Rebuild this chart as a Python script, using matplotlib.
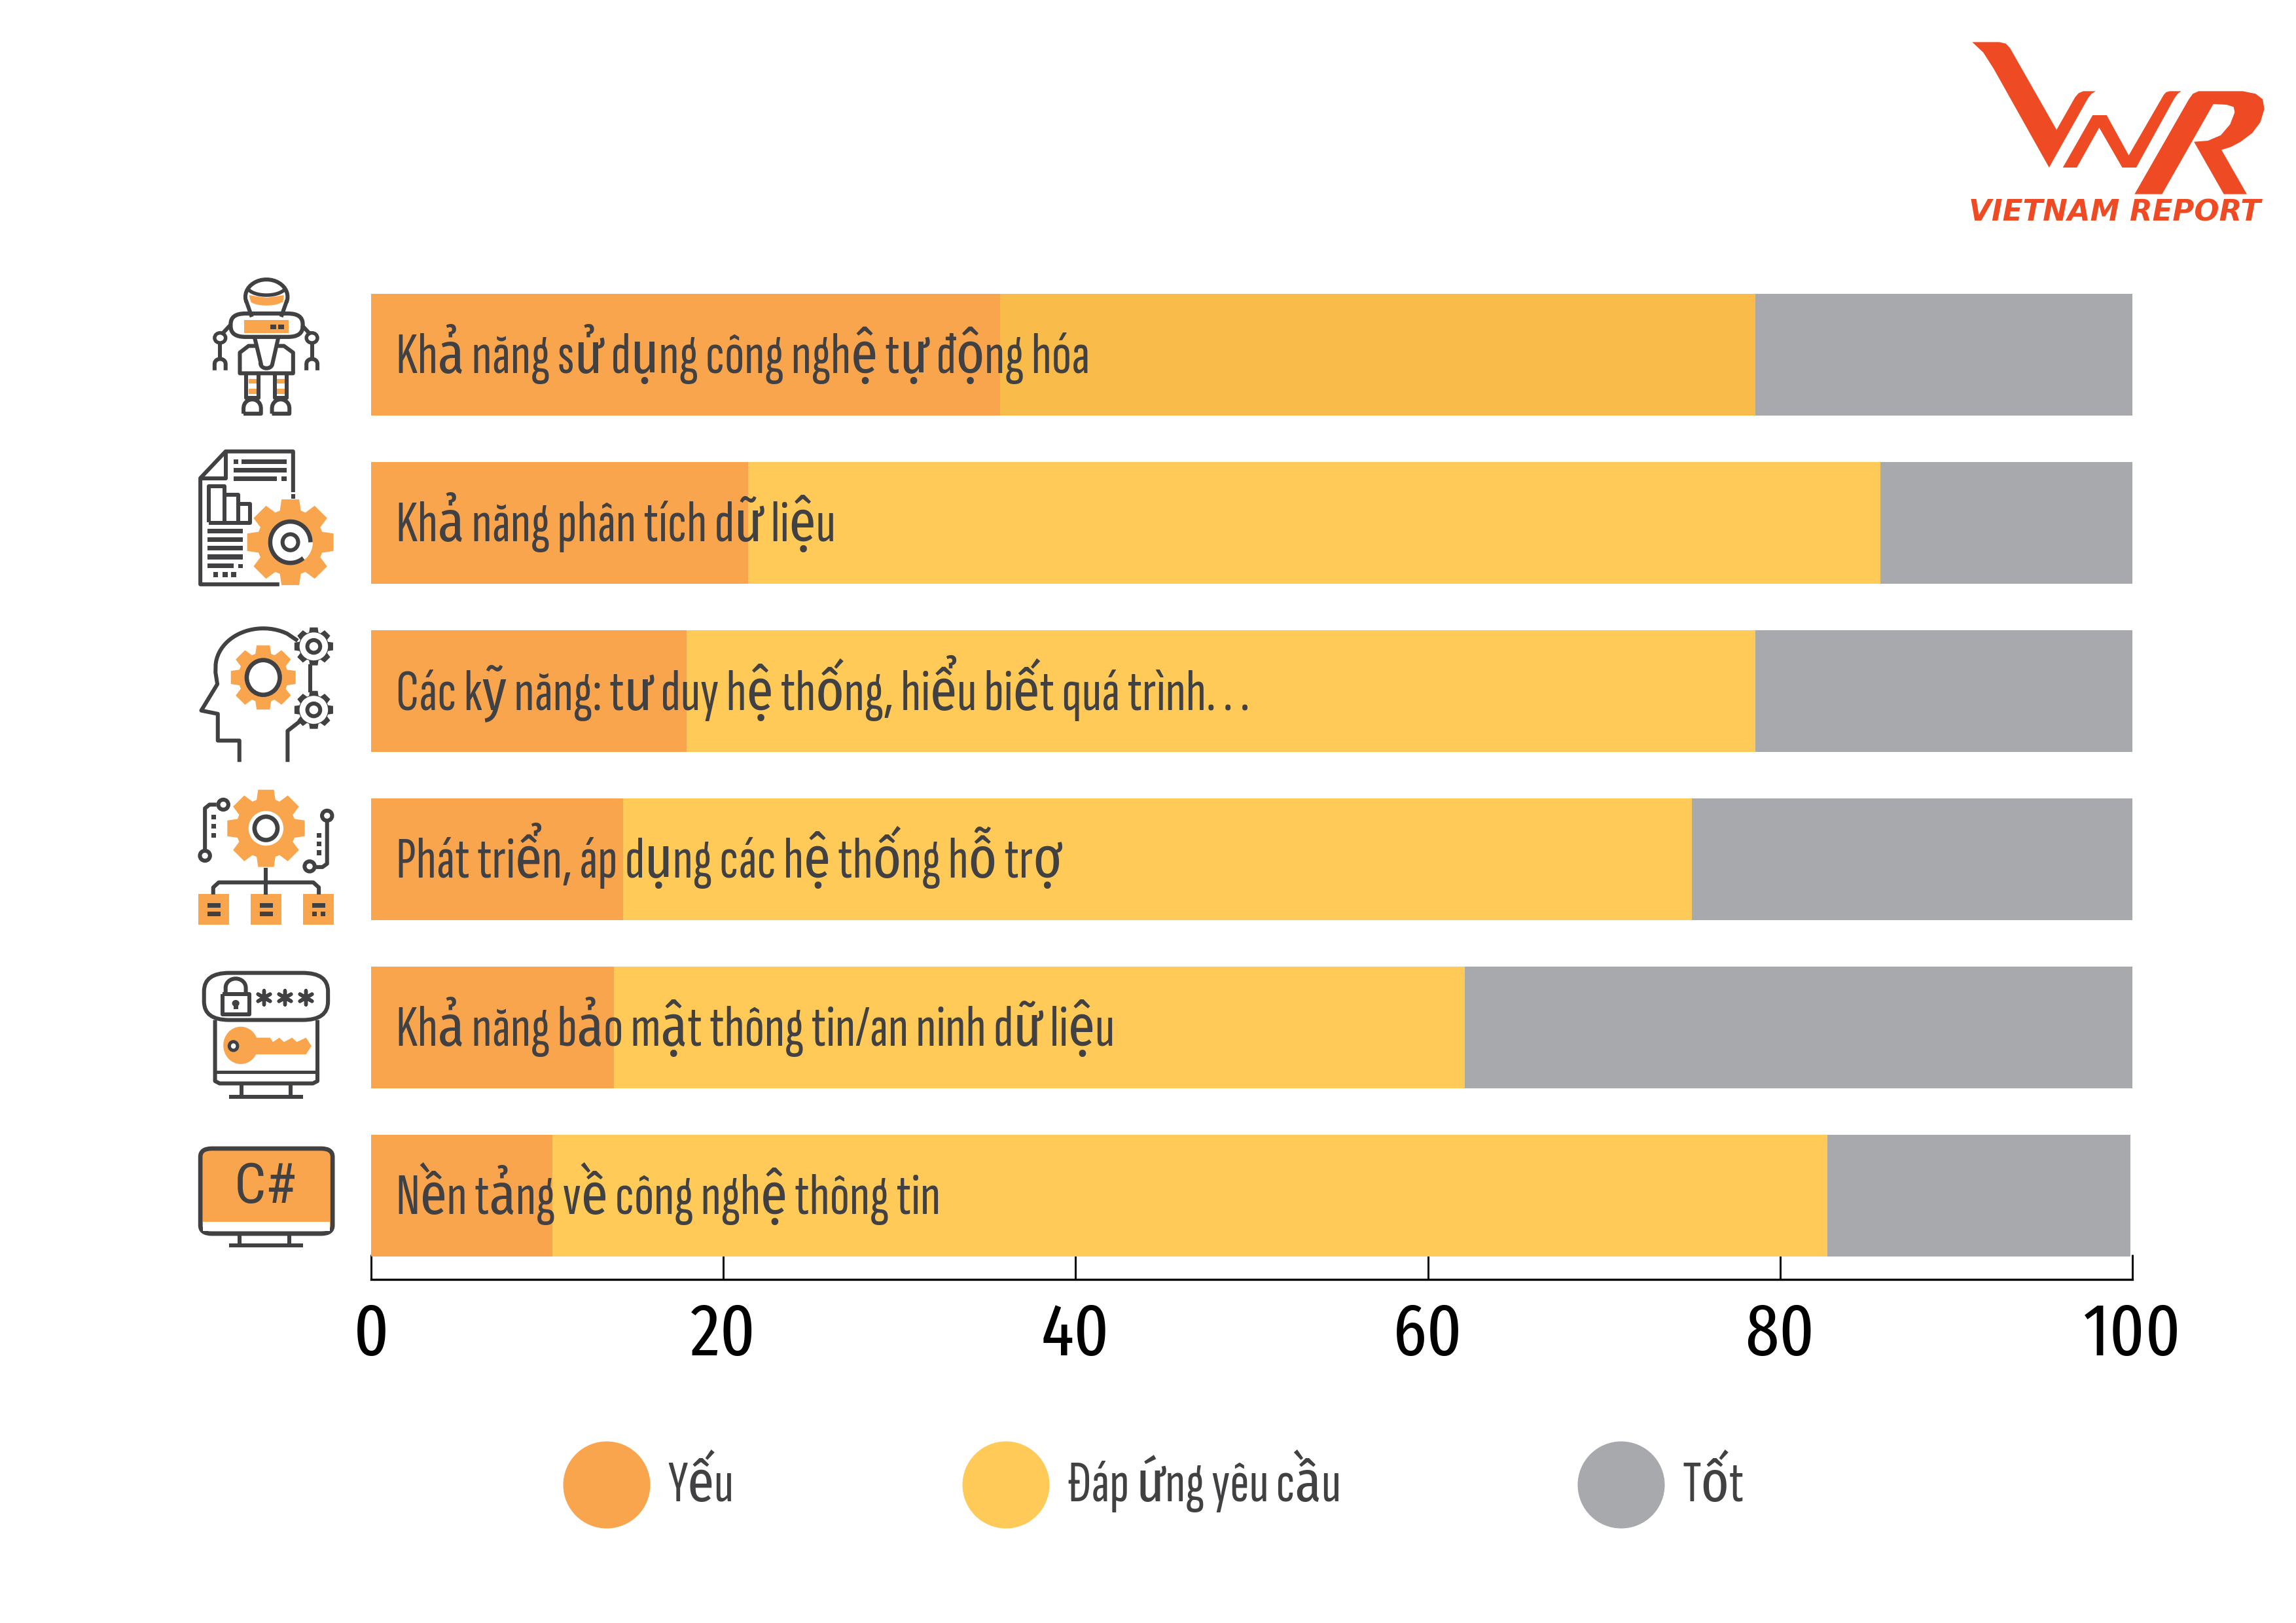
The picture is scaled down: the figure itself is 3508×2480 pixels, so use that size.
import numpy as np
import matplotlib
matplotlib.use('Agg')
import matplotlib.pyplot as plt
from matplotlib.patches import Polygon, Ellipse, Rectangle, FancyBboxPatch
from matplotlib.transforms import Affine2D

plt.rcParams['font.family'] = ['Fira Sans Extra Condensed', 'Barlow Condensed', 'Liberation Sans', 'DejaVu Sans']
NARROW = ['Sofia Sans Extra Condensed', 'Fira Sans Extra Condensed', 'Barlow Condensed', 'Liberation Sans', 'DejaVu Sans']

categories = ['Khả năng sử dụng công nghệ tự động hóa',
              'Khả năng phân tích dữ liệu',
              'Các kỹ năng: tư duy hệ thống, hiểu biết quá trình. . .',
              'Phát triển, áp dụng các hệ thống hỗ trợ',
              'Khả năng bảo mật thông tin/an ninh dữ liệu',
              'Nền tảng về công nghệ thông tin']
yeu = [35.7, 21.4, 17.9, 14.3, 13.8, 10.3]
dap_ung = [42.9, 64.3, 60.7, 60.7, 48.3, 72.4]
tot = [21.4, 14.3, 21.4, 25.0, 37.9, 17.2]
dap_ung_colors = ['#F9BC4B', '#FFCA57', '#FFCA57', '#FFCA57', '#FFCA57', '#FFCA57']
ticks = [0, 20, 40, 60, 80, 100]
legend_labels = ['Yếu', 'Đáp ứng yêu cầu', 'Tốt']

ORANGE = '#F9A54E'
YELLOW = '#FFCA57'
GREY = '#A7A9AC'
DARK = '#414042'
RED = '#EE4B25'

W, H = 3508, 2480
fig = plt.figure(figsize=(W / 300, H / 300), dpi=300)

# main chart, one row every 257 px
ax = fig.add_axes([567 / W, 1 - 1954.5 / H, (3258 - 567) / W, (1954.5 - 420) / H])
y = np.arange(len(categories))
yeu_arr = np.array(yeu)
dap_arr = np.array(dap_ung)
ax.barh(y, yeu, height=0.724, color=ORANGE)
ax.barh(y, dap_ung, left=yeu_arr, height=0.724, color=dap_ung_colors)
ax.barh(y, tot, left=yeu_arr + dap_arr, height=0.724, color=GREY)
for i, label in enumerate(categories):
    ax.text(1.4, i + 0.108, label, va='baseline', ha='left', fontsize=21.5, color=DARK, family=NARROW)
ax.set_xlim(0, 100)
ax.set_ylim(5.496, -0.475)
ax.set_yticks([])
ax.set_xticks(ticks)
ax.set_axisbelow(True)
ax.tick_params(axis='x', direction='in', length=9.2, width=0.7, pad=7.5, labelsize=27, colors='black')
for side in ['top', 'left', 'right']:
    ax.spines[side].set_visible(False)
ax.spines['bottom'].set_linewidth(0.8)
ax.patch.set_visible(False)

# overlay in pixel coordinates for legend, icons and logo
ov = fig.add_axes([0, 0, 1, 1])
ov.set_xlim(0, W)
ov.set_ylim(H, 0)
ov.axis('off')

for cx, tx, col, label in zip([927, 1537, 2477], [1020, 1632, 2571], [ORANGE, YELLOW, GREY], legend_labels):
    ov.add_patch(Ellipse((cx, 2269), 133, 133, color=col, lw=0))
    ov.text(tx, 2294, label, va='baseline', ha='left', fontsize=21.3, color=DARK, family=NARROW)


# icon shapes are traced on stretched crops, these map them back to pixels
def crop(x0, y0, sx, sy):
    return Affine2D().scale(1 / sx, 1 / sy).translate(x0, y0) + ov.transData


T1 = crop(250, 400, 1.4255, 1.96)
T2 = crop(250, 1180, 1.4255, 1.96)
TL = crop(2950, 30, 2.81, 3.0)
LW = 1.45


def stroke(tr, pts, lw=LW, color=DARK):
    xs, ys = zip(*pts)
    ov.plot(xs, ys, color=color, lw=lw, transform=tr, solid_capstyle='butt', solid_joinstyle='round')


def fill(tr, pts, color=ORANGE):
    ov.add_patch(Polygon(pts, closed=True, facecolor=color, edgecolor='none', transform=tr))


def rect(tr, x0, y0, x1, y1, color=DARK):
    ov.add_patch(Rectangle((x0, y0), x1 - x0, y1 - y0, facecolor=color, edgecolor='none', transform=tr))


def oval(tr, cx, cy, rx, ry, face='white', edge=DARK, lw=LW):
    ov.add_patch(Ellipse((cx, cy), 2 * rx, 2 * ry, facecolor=face, edgecolor=edge, lw=lw, transform=tr))


def arc(cx, cy, rx, ry, a0, a1, n=24):
    a = np.radians(np.linspace(a0, a1, n))
    return list(zip(cx + rx * np.cos(a), cy + ry * np.sin(a)))


def box(tr, x0, y0, x1, y1, r, face='none', edge=DARK, lw=LW):
    ov.add_patch(FancyBboxPatch((x0 + r, y0 + r), x1 - x0 - 2 * r, y1 - y0 - 2 * r,
                                boxstyle='round,pad=%f,rounding_size=%f' % (r, r),
                                facecolor=face, edgecolor=edge, lw=lw, transform=tr))


def gear(tr, cx, cy, rx, ry, teeth=8, color=ORANGE, depth=0.76):
    pts = []
    step = 2 * np.pi / teeth
    for k in range(teeth):
        a = k * step - np.pi / 2
        for da, r in [(-0.30, depth), (-0.19, 1), (0.19, 1), (0.30, depth)]:
            pts.append((cx + rx * r * np.cos(a + da * step * 1.35), cy + ry * r * np.sin(a + da * step * 1.35)))
    fill(tr, pts, color)


# robot
stroke(T1, [(192, 165), (180, 118)] + arc(224, 105, 46, 52, 165, 375) + [(268, 118), (256, 165)])
fill(T1, [(186, 100), (224, 108), (262, 100), (260, 122)] + arc(224, 115, 36, 16, 20, 160))
stroke(T1, arc(224, 70, 44, 30, 160, 20), lw=1.3)
box(T1, 146, 155, 303, 225, 32, lw=1.5)
rect(T1, 168, 172, 278, 214, 'white')
rect(T1, 176, 174, 272, 214, ORANGE)
rect(T1, 232, 188, 245, 202)
rect(T1, 250, 188, 263, 202)
stroke(T1, [(198, 226), (212, 305)] + arc(224, 305, 13, 14, 180, 0, 10) + [(250, 226)])
stroke(T1, [(205, 252), (185, 252), (166, 272), (166, 334), (282, 334), (282, 272), (262, 252), (244, 252)])
for lx in [180, 242]:
    stroke(T1, [(lx, 335), (lx, 408), (lx + 26, 408), (lx + 26, 335)])
    for sy in [350, 380]:
        rect(T1, lx + 5, sy, lx + 22, sy + 15, ORANGE)
    stroke(T1, [(lx - 6, 455)] + arc(lx + 13, 438, 19, 26, 180, 360, 12) + [(lx + 32, 455), (lx - 6, 455)])
for sign, ax_x in [(-1, 123), (1, 323)]:
    stroke(T1, [(ax_x - sign * 22, 190), (ax_x - sign * 3, 218)])
    oval(T1, ax_x, 228, 12, 15, lw=1.3)
    stroke(T1, [(ax_x, 243), (ax_x, 292)])
    stroke(T1, [(ax_x - 12, 325)] + arc(ax_x, 305, 12, 14, 180, 360, 10) + [(ax_x + 12, 325)])

# document with gear
stroke(T1, [(282, 690), (282, 568), (135, 568), (80, 648), (80, 966), (252, 966)])
stroke(T1, [(135, 568), (135, 648), (80, 648)])
stroke(T1, [(282, 696), (282, 710)])
rect(T1, 152, 592, 162, 606)
rect(T1, 170, 592, 268, 606)
rect(T1, 152, 617, 268, 631)
rect(T1, 152, 643, 247, 657)
rect(T1, 256, 643, 268, 657)
stroke(T1, [(98, 780), (98, 672), (132, 672), (132, 780)])
stroke(T1, [(132, 697), (162, 697), (162, 780)])
stroke(T1, [(162, 725), (188, 725), (188, 782), (98, 782)])
for ly, lx1 in [(806, 172), (832, 172), (858, 172), (884, 172), (910, 152)]:
    rect(T1, 96, ly - 7, lx1, ly + 7)
rect(T1, 162, 905, 172, 918)
for lx in [108, 128, 147]:
    rect(T1, lx, 930, lx + 11, 944)
gear(T1, 276, 840, 96, 131)
oval(T1, 276, 840, 49, 67, lw=0, edge='none')
stroke(T1, arc(276, 840, 44, 62, 50, 360, 40), lw=1.6)
oval(T1, 276, 840, 17, 24)

# head with gears
stroke(T1, [(165, 1498), (165, 1434), (118, 1434), (118, 1354), (82, 1344), (117, 1265), (113, 1230)]
       + arc(217, 1215, 104, 117, 185, 300) + [(292, 1135)])
stroke(T1, [(270, 1498), (270, 1405), (298, 1375)])
stroke(T1, [(320, 1205), (320, 1290)])
gear(T1, 217, 1245, 72, 98)
oval(T1, 217, 1245, 36, 52, lw=1.6)
for gy in [1152, 1342]:
    gear(T1, 327, gy, 43, 58, color=DARK)
    oval(T1, 327, gy, 31, 42, edge='none', lw=0)
    oval(T1, 327, gy, 14, 19)

# gear with circuit and boxes
gear(T2, 223, 168, 86, 118)
oval(T2, 223, 168, 38, 52, edge='none', lw=0)
oval(T2, 223, 168, 25, 35, lw=1.6)
stroke(T2, [(90, 235), (90, 108), (100, 97), (115, 97)])
oval(T2, 90, 250, 11, 15)
oval(T2, 130, 97, 11, 15)
stroke(T2, [(356, 148), (356, 274), (346, 284), (332, 284)])
oval(T2, 356, 130, 11, 15)
oval(T2, 318, 282, 11, 15)
for dy in [128, 155, 182]:
    rect(T2, 104, dy, 114, dy + 14)
for dy in [182, 208, 234]:
    rect(T2, 333, dy, 343, dy + 14)
stroke(T2, [(223, 287), (223, 366)])
stroke(T2, [(108, 366), (108, 345), (120, 330), (326, 330), (338, 345), (338, 366)])
for bx in [76, 190, 304]:
    rect(T2, bx, 365, bx + 67, 457, ORANGE)
    rect(T2, bx + 19, 392, bx + 48, 405)
    if bx < 300:
        rect(T2, bx + 19, 418, bx + 48, 431)
    else:
        rect(T2, bx + 19, 418, bx + 29, 431)
        rect(T2, bx + 38, 418, bx + 48, 431)

# lock and key
box(T2, 88, 601, 358, 742, 55)
stroke(T2, [(112, 742), (112, 925), (122, 932), (325, 932), (335, 925), (335, 742)])
stroke(T2, [(112, 897), (335, 897)], lw=1.2)
rect(T2, 128, 664, 187, 726, 'white')
stroke(T2, [(128, 664), (187, 664), (187, 726), (128, 726), (128, 664)])
stroke(T2, [(135, 664)] + arc(157, 645, 22, 27, 180, 360, 16) + [(179, 664)])
oval(T2, 157, 692, 8, 10, face=DARK, edge='none', lw=0)
rect(T2, 152, 695, 162, 710)
ov.scatter([218, 264, 310], [675, 675, 675], marker=(6, 2, 0), s=26, color=DARK, linewidths=1.3, transform=T2)
oval(T2, 168, 818, 38, 56, face=ORANGE, edge='none', lw=0)
fill(T2, [(200, 795), (232, 795), (238, 808), (252, 795), (262, 808), (280, 795), (290, 808), (310, 795),
          (322, 820), (310, 845), (200, 845)])
oval(T2, 152, 820, 9, 13, lw=1.2)
for by in [972, 1417]:
    stroke(T2, [(143, by), (304, by)])
for sx in [170, 277]:
    stroke(T2, [(sx, 934), (sx, 970)])
    stroke(T2, [(sx - 4, 1382), (sx - 4, 1417)])

# C# monitor
box(T2, 80, 1127, 368, 1382, 25, face=ORANGE, lw=1.6)
rect(T2, 86, 1346, 362, 1374, 'white')
ov.text(405, 1838, 'C#', ha='center', va='baseline', fontsize=20.5, color=DARK,
        family=['Roboto Condensed', 'Liberation Sans', 'DejaVu Sans'])

# logo
fill(TL, [(178, 103), (295, 103), (322, 110), (340, 130), (540, 505), (620, 355), (635, 337), (655, 328),
          (708, 328), (690, 340), (675, 360), (508, 678), (270, 225), (225, 150)], RED)
fill(TL, [(567, 678), (695, 438), (755, 438), (850, 622), (1000, 345), (1010, 333), (1025, 328), (1075, 328),
          (1060, 340), (1045, 362), (882, 678), (822, 678), (723, 495), (627, 678)], RED)
fill(TL, [(875, 800), (1108, 365), (1125, 340), (1150, 328), (1340, 328), (1395, 340), (1425, 365), (1432, 410),
          (1415, 470), (1380, 520), (1330, 560), (1290, 583), (1248, 597), (1357, 800), (1258, 800), (1130, 560),
          (1190, 555), (1245, 530), (1285, 480), (1305, 425), (1300, 400), (1270, 390), (1213, 387), (993, 800)], RED)
ov.text(3231, 337, 'VIETNAM REPORT', ha='center', va='baseline', fontsize=10.8, color=RED,
        family='DejaVu Sans', weight='bold', style='oblique')

fig.savefig('out.png', dpi=300)
